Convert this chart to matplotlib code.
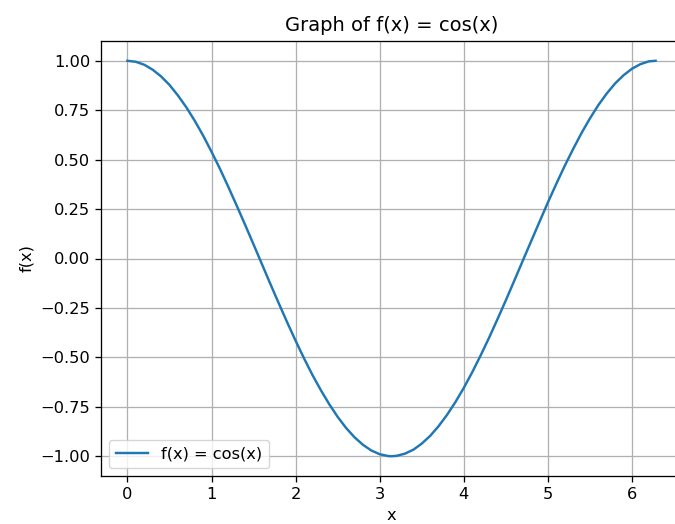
import matplotlib
matplotlib.use("Agg")
import matplotlib.pyplot as plt

# values
x = [0.0, 0.1, 0.2, 0.3, 0.4, 0.5, 0.6, 0.7, 0.8, 0.9, 1.0, 1.1, 1.2, 1.3,
     1.4, 1.5, 1.6, 1.7, 1.8, 1.9, 2.0, 2.1, 2.2, 2.3, 2.4, 2.5, 2.6, 2.7,
     2.8, 2.9, 3.0, 3.1, 3.14, 3.2, 3.3, 3.4, 3.5, 3.6, 3.7, 3.8, 3.9, 4.0,
     4.1, 4.2, 4.3, 4.4, 4.5, 4.6, 4.7, 4.8, 4.9, 5.0, 5.1, 5.2, 5.3, 5.4,
     5.5, 5.6, 5.7, 5.8, 5.9, 6.0, 6.1, 6.2, 6.28]
y = [1.000, 0.995, 0.980, 0.955, 0.921, 0.878, 0.825, 0.765, 0.697, 0.622,
     0.540, 0.454, 0.362, 0.267, 0.170, 0.071, -0.029, -0.129, -0.227, -0.323,
     -0.416, -0.505, -0.589, -0.666, -0.737, -0.801, -0.857, -0.904, -0.942,
     -0.971, -0.990, -0.999, -1.000, -0.998, -0.987, -0.967, -0.936, -0.897,
     -0.848, -0.791, -0.726, -0.654, -0.575, -0.490, -0.401, -0.307, -0.211,
     -0.112, -0.012, 0.087, 0.186, 0.284, 0.378, 0.469, 0.554, 0.635, 0.709,
     0.776, 0.835, 0.886, 0.927, 0.960, 0.983, 0.997, 1.000]

s = 1.17  # reference was rendered a bit larger than default

fig = plt.figure(figsize=(6.75, 5.24), dpi=100)
ax = fig.add_axes([101 / 675, 48 / 524, 581 / 675, 435 / 524])

ax.plot(x, y, label="f(x) = cos(x)", lw=1.5 * s)
ax.set_title("Graph of f(x) = cos(x)", fontsize=12 * s, pad=6 * s)
ax.set_xlabel("x", fontsize=10 * s, labelpad=4 * s)
ax.set_ylabel("f(x)", fontsize=10 * s, labelpad=4 * s)
ax.tick_params(labelsize=10 * s, length=3.5 * s, width=0.8 * s)
for sp in ax.spines.values():
    sp.set_linewidth(0.8 * s)
ax.grid(True, lw=0.8 * s)
ax.legend(loc="lower left", fontsize=10 * s)

fig.savefig("out.png", dpi=100)
